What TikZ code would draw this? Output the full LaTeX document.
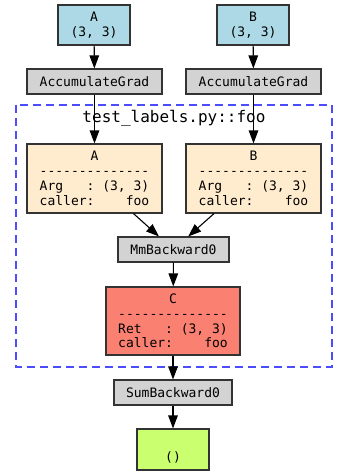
\documentclass[tikz,border=0pt]{standalone}
\usepackage{fontspec}
\setmonofont{DejaVu Sans Mono}
\usetikzlibrary{arrows.meta}

\definecolor{lightblue}{HTML}{ADD8E6}
\definecolor{almond}{HTML}{FFEBCD}
\definecolor{salmon}{HTML}{FA8072}
\definecolor{lightgrey}{HTML}{D3D3D3}
\definecolor{olivegreen}{HTML}{CAFF70}

\newcommand{\dashrow}{-{}-{}-{}-{}-{}-{}-{}-{}-{}-{}-{}-{}-{}-}

\begin{document}
\begin{tikzpicture}[x=1pt,y=-1pt]
        % Styles
        \tikzstyle{box}=[draw=black!80,line width=1.1pt,inner sep=0pt,align=center,
            font=\ttfamily\fontsize{13}{14.8}\selectfont]
        \tikzstyle{leaf}=[box,fill=lightblue,minimum width=72pt,minimum height=40pt]
        \tikzstyle{grad fn}=[box,fill=lightgrey,minimum height=25pt]
        \tikzstyle{tensor}=[box,minimum width=135pt,minimum height=69pt]
        \tikzstyle{edge}=[line width=1.1pt,-{Triangle[length=13pt,width=9.5pt]}]
        \tikzstyle{cluster}=[draw=blue!70,line width=1.1pt,dash pattern=on 8pt off 5pt]
        \useasboundingbox[fill=white] (0,0) rectangle (348,476);
        %The graphic
        %cluster for foo
        \draw[style=cluster] (16,105) rectangle (332,367);
        \node[font=\ttfamily\fontsize{16}{18}\selectfont] (foolabel) at (174,118) {test\_labels.py::foo};
        %leaves
        \node[style=leaf] (a) at (94,25) {A\\(3,~3)};
        \node[style=leaf] (b) at (253,25) {B\\(3,~3)};
        \node[style=grad fn,minimum width=135pt] (acca) at (94.5,81.5) {AccumulateGrad};
        \node[style=grad fn,minimum width=135pt] (accb) at (253.5,81.5) {AccumulateGrad};
        %inside foo
        \node[style=tensor,fill=almond] (argA) at (94.5,178.5) {A\\\dashrow\\Arg~~~:~(3,~3)\\caller:~~~~foo};
        \node[style=tensor,fill=almond] (argB) at (253.5,178.5) {B\\\dashrow\\Arg~~~:~(3,~3)\\caller:~~~~foo};
        \node[style=grad fn,minimum width=111pt] (mm) at (173.5,249.5) {MmBackward0};
        \node[style=tensor,fill=salmon,minimum width=134pt,minimum height=68pt] (c) at (173,321) {C\\\dashrow\\Ret~~~:~(3,~3)\\caller:~~~~foo};
        %output
        \node[style=grad fn,minimum width=118pt] (sum) at (173,392.5) {SumBackward0};
        \node[style=leaf,fill=olivegreen,minimum height=41pt] (out) at (173,449.5) {\strut\\()};
        %edges
        \draw[style=edge] (a) -- (acca);
        \draw[style=edge] (b) -- (accb);
        \draw[style=edge] (acca) -- (argA);
        \draw[style=edge] (accb) -- (argB);
        \draw[style=edge] (argA) -- (mm);
        \draw[style=edge] (argB) -- (mm);
        \draw[style=edge] (mm) -- (c);
        \draw[style=edge] (c) -- (sum);
        \draw[style=edge] (sum) -- (out);
    \end{tikzpicture}
\end{document}
